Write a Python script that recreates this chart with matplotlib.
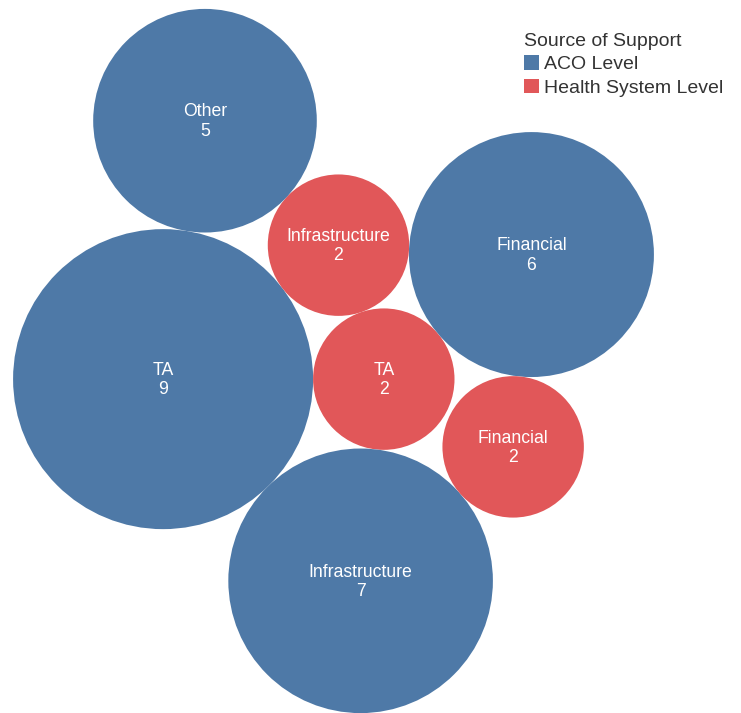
import numpy as np
import matplotlib
matplotlib.use("Agg")
import matplotlib.pyplot as plt
from matplotlib.patches import Circle, Patch

# --- DATA ---
categories = ["TA", "TA", "Infrastructure", "Infrastructure", "Financial", "Financial", "Other"]
levels = ["ACO Level", "Health System Level", "Health System Level", "ACO Level",
          "ACO Level", "Health System Level", "ACO Level"]
values = [9, 2, 2, 7, 6, 2, 5]

level_names = ["ACO Level", "Health System Level"]
level_colors = {"ACO Level": "#4E79A7", "Health System Level": "#E15759"}

# --- LAYOUT RECIPE (which earlier bubbles each one touches, and on which side) ---
# entry i: (index_a, index_b, side); first bubble sits at origin, second to its right
touches = [None, None, (0, 1, -1), (0, 1, 1), (1, 2, 1), (4, 3, -1), (0, 2, -1)]
SCALE = 50.0              # px radius per sqrt(value)
GROUP_CENTER = (333.5, 361.0)

radii = SCALE * np.sqrt(np.array(values, dtype=float))


def tangent_point(pa, ra, pb, rb, r, side):
    # point at distance ra+r from pa and rb+r from pb, on given side of a->b
    da, db = ra + r, rb + r
    v = pb - pa
    d = np.hypot(*v)
    u = v / d
    a = (da ** 2 - db ** 2 + d ** 2) / (2 * d)
    h = np.sqrt(max(da ** 2 - a ** 2, 0))
    perp = np.array([-u[1], u[0]])
    return pa + a * u + side * h * perp


centers = np.zeros((len(values), 2))
centers[1] = [radii[0] + radii[1], 0.0]
for i in range(2, len(values)):
    ia, ib, side = touches[i]
    centers[i] = tangent_point(centers[ia], radii[ia], centers[ib], radii[ib], radii[i], side)

lo = (centers - radii[:, None]).min(axis=0)
hi = (centers + radii[:, None]).max(axis=0)
centers += np.array(GROUP_CENTER) - (lo + hi) / 2

# --- PLOT ---
W, H = 741, 713
fig = plt.figure(figsize=(W / 100, H / 100), dpi=100)
ax = fig.add_axes([0, 0, 1, 1])
ax.set_xlim(0, W)
ax.set_ylim(H, 0)
ax.axis("off")

font = ["Liberation Sans", "DejaVu Sans"]
for (x, y), r, cat, lev, val in zip(centers, radii, categories, levels, values):
    ax.add_patch(Circle((x, y), r, facecolor=level_colors[lev], edgecolor="none"))
    ax.text(x, y + 1, f"{cat}\n{val}", ha="center", va="center", color="white",
            fontsize=12.7, family=font, linespacing=1.2)

handles = [Patch(facecolor=level_colors[n], edgecolor="none") for n in level_names]
leg = fig.legend(handles, level_names, title="Source of Support",
                 loc="upper left", bbox_to_anchor=(524 / W, 1 - 33 / H),
                 frameon=False, fontsize=14, title_fontsize=14,
                 handlelength=0.75, handleheight=0.75, handletextpad=0.3,
                 labelspacing=0.28, borderaxespad=0, borderpad=0,
                 alignment="left", prop={"family": font, "size": 14})
leg.get_title().set_color("#333333")
leg.get_title().set_family(font)
for t in leg.get_texts():
    t.set_color("#333333")

fig.savefig("out.png", dpi=100)
